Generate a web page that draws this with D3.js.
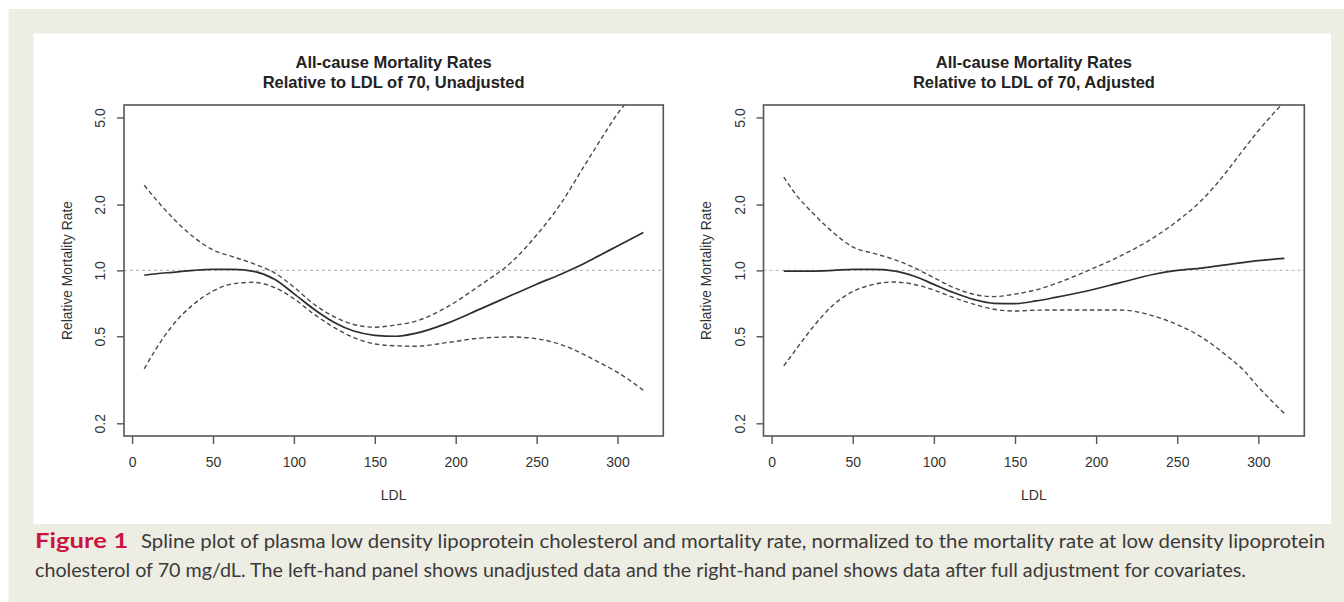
<!DOCTYPE html>
<html>
<head>
<meta charset="utf-8">
<script src="https://cdn.jsdelivr.net/npm/d3@7"></script>
<style>
  html, body { margin: 0; padding: 0; background: #ffffff; }
  svg { display: block; }
</style>
</head>
<body>
<svg id="chart" width="1344" height="602"></svg>
<script>
// ---------------- DATA ----------------
const ldl = [7.5, 15, 25, 38, 50, 63, 75, 88, 100, 112, 125, 137, 150, 163, 175, 195, 215, 235, 250, 265, 280, 290, 300, 316];

// Unadjusted (left panel)
const unadjEstimate = [0.95, 0.965, 0.98, 1.0, 1.01, 1.01, 0.99, 0.91, 0.783, 0.668, 0.578, 0.528, 0.505, 0.50, 0.515, 0.574, 0.665, 0.773, 0.864, 0.961, 1.081, 1.183, 1.292, 1.49];
const unadjUpper    = [2.45, 2.1, 1.74, 1.42, 1.24, 1.15, 1.073, 0.975, 0.839, 0.704, 0.613, 0.566, 0.55, 0.563, 0.585, 0.683, 0.854, 1.1, 1.45, 2.02, 3.05, 4.0, 5.2, 7.1];
const unadjLower    = [0.355, 0.44, 0.56, 0.70, 0.805, 0.87, 0.882, 0.835, 0.742, 0.634, 0.548, 0.493, 0.461, 0.452, 0.45, 0.468, 0.49, 0.496, 0.487, 0.458, 0.41, 0.375, 0.342, 0.283];

// Adjusted (right panel)
const adjEstimate = [0.993, 0.993, 0.993, 1.0, 1.01, 1.01, 0.995, 0.94, 0.863, 0.792, 0.735, 0.707, 0.705, 0.725, 0.753, 0.807, 0.879, 0.958, 1.0, 1.025, 1.06, 1.085, 1.108, 1.134];
const adjUpper    = [2.67, 2.22, 1.84, 1.49, 1.28, 1.195, 1.125, 1.027, 0.926, 0.836, 0.776, 0.759, 0.779, 0.815, 0.87, 0.998, 1.164, 1.405, 1.68, 2.09, 2.8, 3.5, 4.35, 5.9];
const adjLower    = [0.366, 0.435, 0.545, 0.695, 0.80, 0.863, 0.885, 0.862, 0.813, 0.752, 0.699, 0.664, 0.652, 0.658, 0.659, 0.659, 0.659, 0.62, 0.565, 0.495, 0.41, 0.355, 0.293, 0.222];

const xTicks = [0, 50, 100, 150, 200, 250, 300];
const yTicks = [0.2, 0.5, 1.0, 2.0, 5.0];
const yTickLabels = ["0.2", "0.5", "1.0", "2.0", "5.0"];
const referenceRate = 1.0;

const titleLine1 = "All-cause Mortality Rates";
const panelTitles = ["Relative to LDL of 70, Unadjusted", "Relative to LDL of 70, Adjusted"];
const xLabel = "LDL";
const yLabel = "Relative Mortality Rate";
const captionLabel = "Figure 1";
const captionLine1 = "Spline plot of plasma low density lipoprotein cholesterol and mortality rate, normalized to the mortality rate at low density lipoprotein";
const captionLine2 = "cholesterol of 70 mg/dL. The left-hand panel shows unadjusted data and the right-hand panel shows data after full adjustment for covariates.";

// ---------------- LAYOUT ----------------
const svg = d3.select("#chart");
const BEIGE = "#eeede3";

svg.append("rect").attr("x", 0).attr("y", 0).attr("width", 1344).attr("height", 602).attr("fill", "#ffffff");
svg.append("rect").attr("x", 8.5).attr("y", 9).attr("width", 1344 - 8.5).attr("height", 602 - 9).attr("fill", BEIGE);
svg.append("rect").attr("x", 33.5).attr("y", 33.5).attr("width", 1331 - 33.5).attr("height", 524 - 33.5).attr("fill", "#ffffff");

const panels = [
  { left: 124, right: 663.3, title2: panelTitles[0], est: unadjEstimate, up: unadjUpper, lo: unadjLower, id: "p0" },
  { left: 763.5, right: 1304.3, title2: panelTitles[1], est: adjEstimate, up: adjUpper, lo: adjLower, id: "p1" }
];
const boxTop = 105, boxBottom = 436;
const xDomain = [-5, 328.3];
const yDomain = [0.175, 5.7];

const fontR = "'Liberation Sans', Arial, sans-serif";
const textCol = "#333";

panels.forEach(p => {
  const x = d3.scaleLinear().domain(xDomain).range([p.left, p.right]);
  const y = d3.scaleLog().domain(yDomain).range([boxBottom, boxTop]);
  const cx = (p.left + p.right) / 2;
  const g = svg.append("g");

  // clip
  svg.append("clipPath").attr("id", "clip-" + p.id)
    .append("rect").attr("x", p.left).attr("y", boxTop)
    .attr("width", p.right - p.left).attr("height", boxBottom - boxTop);

  // titles
  g.append("text").attr("x", cx).attr("y", 68).attr("text-anchor", "middle")
    .attr("font-family", fontR).attr("font-weight", "bold").attr("font-size", 16.5)
    .attr("fill", "#222").text(titleLine1);
  g.append("text").attr("x", cx).attr("y", 88).attr("text-anchor", "middle")
    .attr("font-family", fontR).attr("font-weight", "bold").attr("font-size", 16.5)
    .attr("fill", "#222").text(p.title2);

  // reference line at 1.0
  g.append("line")
    .attr("x1", p.left).attr("x2", p.right)
    .attr("y1", y(referenceRate)).attr("y2", y(referenceRate))
    .attr("stroke", "#bdbdbd").attr("stroke-width", 1.3).attr("stroke-dasharray", "3,3");

  // curves
  const line = d3.line().x(d => x(d[0])).y(d => y(d[1])).curve(d3.curveMonotoneX);
  const curves = g.append("g").attr("clip-path", "url(#clip-" + p.id + ")");
  [p.up, p.lo].forEach(arr => {
    curves.append("path").datum(ldl.map((v, i) => [v, arr[i]]))
      .attr("d", line).attr("fill", "none")
      .attr("stroke", "#4a4a4a").attr("stroke-width", 1.4).attr("stroke-dasharray", "4.5,3");
  });
  curves.append("path").datum(ldl.map((v, i) => [v, p.est[i]]))
    .attr("d", line).attr("fill", "none")
    .attr("stroke", "#2e2e2e").attr("stroke-width", 1.7);

  // box
  g.append("rect").attr("x", p.left).attr("y", boxTop)
    .attr("width", p.right - p.left).attr("height", boxBottom - boxTop)
    .attr("fill", "none").attr("stroke", "#555").attr("stroke-width", 1.6);

  // x axis
  const xAxis = g.append("g").attr("transform", `translate(0,${boxBottom})`)
    .call(d3.axisBottom(x).tickValues(xTicks).tickSize(8).tickSizeOuter(0).tickFormat(d3.format("d")));
  xAxis.select(".domain").remove();
  xAxis.selectAll(".tick line").attr("stroke", "#555").attr("stroke-width", 1.4);
  xAxis.selectAll(".tick text").attr("y", 31).attr("dy", 0)
    .attr("font-family", fontR).attr("font-size", 14).attr("fill", textCol);

  // y axis
  const yAxis = g.append("g").attr("transform", `translate(${p.left},0)`)
    .call(d3.axisLeft(y).tickValues(yTicks).tickSize(7).tickSizeOuter(0)
      .tickFormat((d, i) => yTickLabels[i]));
  yAxis.select(".domain").remove();
  yAxis.selectAll(".tick line").attr("stroke", "#555").attr("stroke-width", 1.4);
  yAxis.selectAll(".tick text")
    .attr("x", 0).attr("y", -23.5).attr("dy", "0.35em")
    .attr("transform", "rotate(-90)")
    .attr("text-anchor", "middle")
    .attr("font-family", fontR).attr("font-size", 14).attr("fill", textCol);

  // axis titles
  g.append("text").attr("x", cx).attr("y", 500).attr("text-anchor", "middle")
    .attr("font-family", fontR).attr("font-size", 14).attr("fill", textCol).text(xLabel);
  const yl = p.left - 57;
  g.append("text").attr("transform", `translate(${yl},${(boxTop + boxBottom) / 2}) rotate(-90)`)
    .attr("text-anchor", "middle").attr("dy", "0.35em")
    .attr("font-family", fontR).attr("font-size", 13.8).attr("fill", textCol).text(yLabel);
});

// ---------------- CAPTION ----------------
const cap = svg.append("g");
cap.append("text").attr("x", 35).attr("y", 548)
  .attr("font-family", "Lato, 'Open Sans', sans-serif").attr("font-weight", "bold")
  .attr("font-size", 21).attr("fill", "#cc1442")
  .attr("textLength", 93).attr("lengthAdjust", "spacingAndGlyphs")
  .text(captionLabel);
cap.append("text").attr("x", 141).attr("y", 548)
  .attr("font-family", "Lato, 'Open Sans', sans-serif").attr("font-size", 18.5).attr("fill", "#3a3a3a")
  .attr("textLength", 1184).attr("lengthAdjust", "spacingAndGlyphs")
  .text(captionLine1);
cap.append("text").attr("x", 35).attr("y", 577)
  .attr("font-family", "Lato, 'Open Sans', sans-serif").attr("font-size", 18.5).attr("fill", "#3a3a3a")
  .attr("textLength", 1211).attr("lengthAdjust", "spacingAndGlyphs")
  .text(captionLine2);
</script>
</body>
</html>
